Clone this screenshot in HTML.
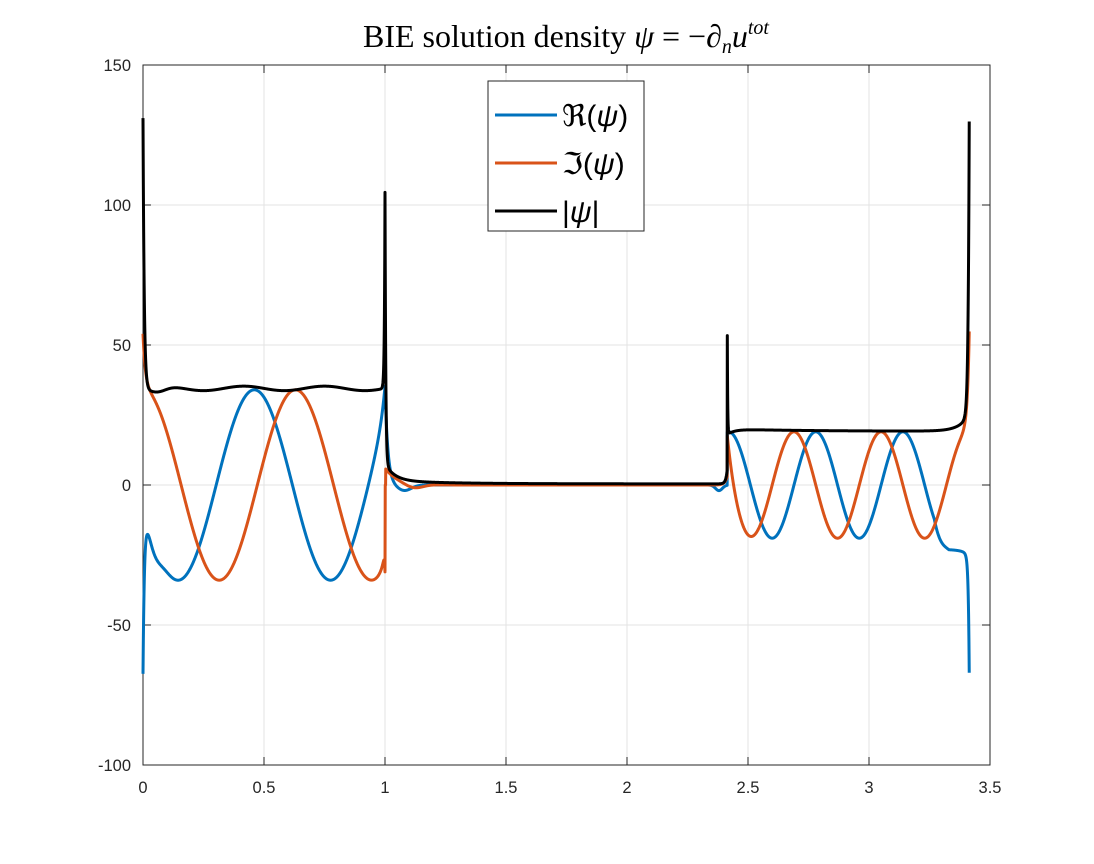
<!DOCTYPE html>
<html><head><meta charset="utf-8"><style>
body{margin:0;background:#fff;}
svg text{font-family:"Liberation Sans",sans-serif;}
</style></head><body>
<svg id="s" width="1094" height="859" xmlns="http://www.w3.org/2000/svg">
<rect width="1094" height="859" fill="#fff"/>
<g id="grid" stroke="#e3e3e3" stroke-width="1"></g>
<rect x="143" y="65" width="847" height="700" fill="none" stroke="#262626" stroke-width="1"/>
<g id="ticks" stroke="#262626" stroke-width="1"></g>
<g id="labels" font-size="16.5" fill="#262626"></g>
<g id="curves" fill="none" stroke-width="3" stroke-linejoin="round"></g>
<text x="566" y="47" text-anchor="middle" style="font-family:'Liberation Serif',serif" font-size="32" fill="#000">BIE solution density <tspan font-style="italic">ψ</tspan> = −∂<tspan font-style="italic" font-size="20" dy="6">n</tspan><tspan font-style="italic" dy="-6">u</tspan><tspan font-style="italic" font-size="20" dy="-13">tot</tspan></text>
<rect x="488" y="81" width="156" height="150" fill="#fff" stroke="#262626" stroke-width="1"/>
<line x1="495" y1="115" x2="557" y2="115" stroke="#0072BD" stroke-width="3"/>
<line x1="495" y1="163" x2="557" y2="163" stroke="#D95319" stroke-width="3"/>
<line x1="495" y1="211" x2="557" y2="211" stroke="#000" stroke-width="3"/>
<g style="font-family:'Liberation Serif',serif" font-size="30" fill="#000">
<text x="562" y="126">ℜ(<tspan font-style="italic">ψ</tspan>)</text>
<text x="562" y="174">ℑ(<tspan font-style="italic">ψ</tspan>)</text>
<text x="562" y="222">|<tspan font-style="italic">ψ</tspan>|</text>
</g>
</svg>
<script>
const X=s=>143+s*242, Y=v=>485-v*2.8;
const NS="http://www.w3.org/2000/svg";
function el(p,t,a,txt){const e=document.createElementNS(NS,t);for(const k in a)e.setAttribute(k,a[k]);if(txt!=null)e.textContent=txt;document.getElementById(p).appendChild(e);}
[0.5,1,1.5,2,2.5,3].forEach(v=>el("grid","line",{x1:X(v),x2:X(v),y1:65,y2:765}));
[-50,0,50,100].forEach(v=>el("grid","line",{x1:143,x2:990,y1:Y(v),y2:Y(v)}));
for(let v=0;v<=3.5;v+=0.5){el("ticks","line",{x1:X(v),x2:X(v),y1:765,y2:757});el("ticks","line",{x1:X(v),x2:X(v),y1:65,y2:73});
 el("labels","text",{x:X(v),y:793,"text-anchor":"middle"},String(v));}
for(let v=-100;v<=150;v+=50){el("ticks","line",{x1:143,x2:151,y1:Y(v),y2:Y(v)});el("ticks","line",{x1:990,x2:982,y1:Y(v),y2:Y(v)});
 el("labels","text",{x:131,y:Y(v)+6,"text-anchor":"end"},String(v));}
const E=Math.exp,C=Math.cos,P=2*Math.PI;
function re(s){
 if(s<=1) return 34*C(P*(s-0.46)/0.63)-61*E(-s/0.006)-6*E(-Math.pow((s-0.04)/0.04,2))+14*E(-(1-s)/0.02);
 if(s<2.414) return 35*E(-(s-1)/0.012)-2*E(-Math.pow((s-1.08)/0.04,2))-2*E(-Math.pow((s-2.38)/0.02,2));
 let base=19*C(P*(s-2.78)/0.36);
 if(s>3.27){const w=Math.min(1,(s-3.27)/0.06);base=base*(1-w)+(-23)*w;}
 return base-40*E(-(3.414-s)/0.004)-2*E(-(3.414-s)/0.03);
}
function im(s){
 if(s<=1) return 34*C(P*(s-0.63)/0.63)+20*E(-s/0.01)+6*E(-(1-s)/0.01)-8*E(-(1-s)/0.002);
 if(s<2.414) return 5*E(-(s-1.01)/0.05)*(s>1.003?1:0)-1.5*E(-Math.pow((s-1.12)/0.05,2))+3*E(-(2.414-s)/0.01);
 return 19*C(P*(s-2.69)/0.36)+16*E(-(s-2.414)/0.03)+35*E(-(3.414-s)/0.008);
}
function ab(s){
 if(s<=1) return 34.5-2*E(-Math.pow((s-0.06)/0.05,2))+97*E(-s/0.005)+70*E(-(1-s)/0.0025)+0.8*Math.sin(P*s*3);
 if(s<2.414) return 0.4+100*E(-(s-1)/0.003)+6*E(-(s-1)/0.04)+1.2*E(-(s-1)/0.25)+5*E(-(2.414-s)/0.006);
 return 19.2+0.8*E(-(s-2.414)/0.3)-2*E(-(s-2.414)/0.03)+50*E(-(s-2.414)/0.0015)+100*E(-(3.414-s)/0.0045)+6*E(-(3.414-s)/0.04);
}
function path(f,col){let d="";const N=5000;for(let i=0;i<=N;i++){let s=i/N*3.4142;if(Math.abs(s-1)<0.0004)s=1;d+=(i?"L":"M")+X(s).toFixed(2)+" "+Math.max(60,Y(f(s))).toFixed(2);}
 el("curves","path",{d:d,stroke:col});}
path(re,"#0072BD");path(im,"#D95319");path(ab,"#000");
</script>
</body></html>
